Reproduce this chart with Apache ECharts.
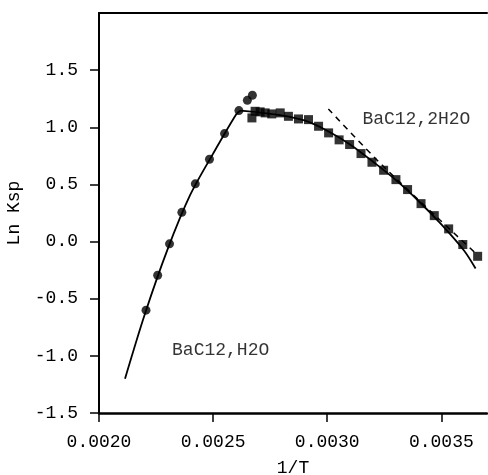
<!DOCTYPE html>
<html>
<head>
<meta charset="utf-8">
<script src="https://cdn.jsdelivr.net/npm/echarts@6/dist/echarts.min.js"></script>
<style>
html,body{margin:0;padding:0;background:#fff;}
#c{width:488px;height:475px;}
</style>
</head>
<body>
<div id="c"></div>
<script>
// Monohydrate data (circles)
const hydrate1X = [0.002206, 0.002257, 0.002309, 0.002363, 0.002422, 0.002484, 0.002550, 0.002613, 0.002650, 0.002672];
const hydrate1Y = [-0.60, -0.295, -0.02, 0.256, 0.505, 0.72, 0.945, 1.146, 1.236, 1.28];
// Dihydrate data (squares)
const hydrate2X = [0.002670, 0.002684, 0.002706, 0.002728, 0.002757, 0.002794, 0.002830, 0.002874, 0.002918, 0.002962, 0.003006, 0.003052, 0.003098, 0.003148, 0.003196, 0.003247, 0.003301, 0.003352, 0.003411, 0.003469, 0.003532, 0.003594, 0.003659];
const hydrate2Y = [1.082, 1.140, 1.135, 1.126, 1.117, 1.126, 1.096, 1.073, 1.067, 1.009, 0.951, 0.89, 0.849, 0.770, 0.694, 0.624, 0.542, 0.455, 0.332, 0.227, 0.111, -0.026, -0.129];
// Fitted curve, monohydrate
const fit1X = [0.002114, 0.0022, 0.0023, 0.0024, 0.0025, 0.0026, 0.002618];
const fit1Y = [-1.2, -0.64, -0.07, 0.41, 0.77, 1.11, 1.145];
// Fitted curve, dihydrate
const fit2X = [0.002618, 0.0027, 0.0028, 0.0029, 0.0030, 0.0031, 0.0032, 0.0033, 0.0034, 0.0035, 0.0036, 0.00365];
const fit2Y = [1.145, 1.13, 1.105, 1.06, 0.97, 0.85, 0.70, 0.54, 0.355, 0.15, -0.08, -0.236];
// Dashed line
const dashX = [0.003005, 0.00325, 0.00366];
const dashY = [1.16, 0.65, -0.12];
// Annotations
const noteText = ["BaC12,2H2O", "BaC12,H2O"];
const noteX = [0.003154, 0.00232];
const noteY = [1.067, -0.951];
// Ticks
const yTicks = [-1.5, -1.0, -0.5, 0.0, 0.5, 1.0, 1.5];
const xTicks = [0.0020, 0.0025, 0.0030, 0.0035];

const zip = (a, b) => a.map((v, i) => [v, b[i]]);
const FONT = "Liberation Mono";

const chart = echarts.init(document.getElementById('c'), null, {renderer: 'canvas'});
chart.setOption({
  animation: false,
  backgroundColor: '#fff',
  grid: {left: 99, right: 1, top: 13, bottom: 62, containLabel: false, outerBoundsMode: 'none'},
  xAxis: [{
    type: 'value', min: 0.0020, max: 0.0037, position: 'bottom',
    name: '1/T', nameLocation: 'middle', nameGap: 46,
    nameTextStyle: {fontFamily: FONT, fontSize: 18, color: '#000'},
    axisLine: {show: true, onZero: false, lineStyle: {color: '#000', width: 2.5}},
    axisTick: {show: true, length: 9, customValues: xTicks, lineStyle: {color: '#000', width: 1.5}},
    axisLabel: {customValues: xTicks, margin: 20, fontFamily: FONT, fontSize: 18, color: '#000', formatter: v => v.toFixed(4)},
    splitLine: {show: false}
  }, {
    type: 'value', min: 0.0020, max: 0.0037, position: 'top',
    axisLine: {show: true, onZero: false, lineStyle: {color: '#000', width: 2}},
    axisTick: {show: false}, axisLabel: {show: false}, splitLine: {show: false}
  }],
  yAxis: {
    type: 'value', min: -1.5, max: 2.0,
    name: 'Ln Ksp', nameLocation: 'middle', nameGap: 76,
    nameTextStyle: {fontFamily: FONT, fontSize: 18, color: '#000'},
    axisLine: {show: true, onZero: false, lineStyle: {color: '#000', width: 2}},
    axisTick: {show: true, length: 9, customValues: yTicks, lineStyle: {color: '#000', width: 1.5}},
    axisLabel: {customValues: yTicks, margin: 21, fontFamily: FONT, fontSize: 18, color: '#000', formatter: v => v.toFixed(1)},
    splitLine: {show: false}
  },
  series: [
    {type: 'line', data: zip(fit1X, fit1Y), smooth: 0.3, symbol: 'none', lineStyle: {color: '#000', width: 1.8}, z: 2},
    {type: 'line', data: zip(fit2X, fit2Y), smooth: 0.3, symbol: 'none', lineStyle: {color: '#000', width: 1.8}, z: 2},
    {type: 'line', data: zip(dashX, dashY), smooth: 0.3, symbol: 'none', lineStyle: {color: '#000', width: 1.5, type: [6, 5]}, z: 2},
    {type: 'scatter', data: zip(hydrate1X, hydrate1Y), symbol: 'circle', symbolSize: 9, itemStyle: {color: '#000'}, z: 3},
    {type: 'scatter', data: zip(hydrate2X, hydrate2Y), symbol: 'rect', symbolSize: 9, itemStyle: {color: '#000'}, z: 3},
    {type: 'scatter', symbolSize: 0, silent: true,
      data: noteText.map((t, i) => ({value: [noteX[i], noteY[i]], name: t})),
      label: {show: true, position: [0, 0], align: 'left', verticalAlign: 'middle', formatter: p => p.name,
        fontFamily: FONT, fontSize: 18, color: '#000'}, z: 4}
  ]
});
</script>
</body>
</html>
